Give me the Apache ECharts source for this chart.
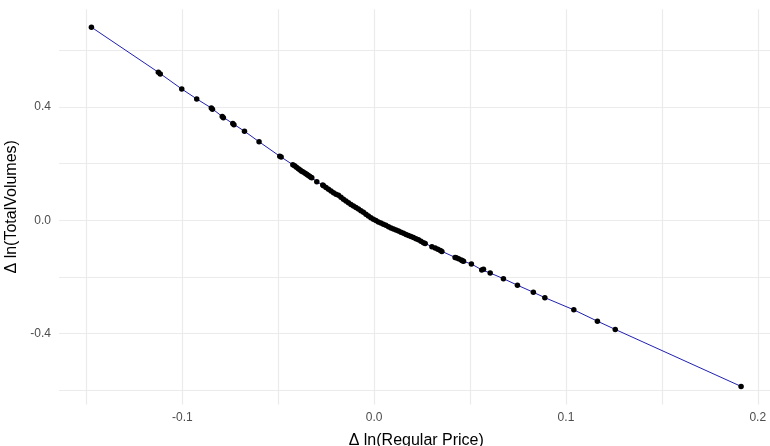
<!DOCTYPE html>
<html><head><meta charset="utf-8">
<script src="https://cdn.jsdelivr.net/npm/echarts@6/dist/echarts.min.js"></script>
<style>html,body{margin:0;padding:0;background:#fff}#c{width:770px;height:446px}</style>
</head><body><div id="c"></div>
<script>
// Δ ln(Regular Price)
const priceChange = [-0.1474,-0.1125,-0.1115,-0.1003,-0.0925,-0.0849,-0.0843,-0.0792,-0.0786,-0.0737,-0.0731,-0.0676,-0.0600,-0.0492,-0.0485,
  -0.0424,-0.0415,-0.0405,-0.0395,-0.0386,-0.0378,-0.0370,-0.0360,-0.0352,-0.0345,-0.0337,-0.0330,-0.0325,-0.0299,-0.0268,
  -0.0264,-0.0251,-0.0238,-0.0225,-0.0212,-0.0199,-0.0186,-0.0173,-0.0160,-0.0147,-0.0134,-0.0121,-0.0108,-0.0095,-0.0082,-0.0069,-0.0056,-0.0043,-0.0030,-0.0017,-0.0004,
  0.0009,0.0022,0.0035,0.0048,0.0061,0.0075,0.0088,0.0101,0.0114,0.0127,0.0140,0.0153,0.0166,0.0179,0.0192,0.0205,0.0218,0.0231,0.0244,0.0257,0.0266,
  0.0301,0.0318,0.0332,0.0345,0.0353,0.0422,0.0428,0.0440,0.0454,0.0460,0.0466,0.0507,0.0561,0.0570,0.0605,0.0674,0.0747,0.0830,0.0890,0.1041,0.1164,0.1257,0.1913];
// Δ ln(TotalVolumes)
const volumeChange = [0.681,0.522,0.516,0.463,0.428,0.396,0.392,0.366,0.362,0.341,0.337,0.314,0.277,0.226,0.223,
  0.196,0.192,0.187,0.182,0.177,0.173,0.170,0.166,0.162,0.159,0.155,0.152,0.150,0.136,0.124,
  0.122,0.116,0.109,0.103,0.097,0.092,0.088,0.081,0.074,0.068,0.062,0.056,0.050,0.045,0.040,0.034,0.028,0.021,0.015,0.009,0.0035,
  -0.001,-0.006,-0.010,-0.014,-0.018,-0.023,-0.027,-0.031,-0.034,-0.038,-0.042,-0.046,-0.050,-0.054,-0.057,-0.061,-0.065,-0.069,-0.074,-0.079,-0.082,
  -0.093,-0.098,-0.102,-0.107,-0.110,-0.131,-0.132,-0.136,-0.140,-0.143,-0.145,-0.154,-0.175,-0.173,-0.186,-0.206,-0.229,-0.254,-0.273,-0.316,-0.356,-0.385,-0.586];
const xTicks = [-0.1, 0.0, 0.1, 0.2];
const yTicks = [-0.4, 0.0, 0.4];
const xGrid = [-0.15,-0.1,-0.05,0,0.05,0.1,0.15,0.2];
const yGrid = [-0.6,-0.4,-0.2,0,0.2,0.4,0.6];

const pts = priceChange.map((x,i)=>[x, volumeChange[i]]).sort((a,b)=>a[0]-b[0]);
const fmt = v => v.toFixed(1);
const chart = echarts.init(document.getElementById('c'), null, {renderer:'canvas'});
const gridLines = [
  ...xGrid.map(v=>({xAxis:v})),
  ...yGrid.map(v=>({yAxis:v}))
];
chart.setOption({
  animation:false,
  backgroundColor:'#fff',
  grid:{left:59, right:-3.5, top:9.2, bottom:41.6, containLabel:false, outerBoundsMode:'none'},
  xAxis:{type:'value', min:-0.1643, max:0.2082,
    name:'Δ ln(Regular Price)', nameLocation:'middle', nameGap:28,
    nameTextStyle:{color:'#000', fontSize:16, fontFamily:'Liberation Sans'},
    axisLine:{show:false}, axisTick:{show:false, customValues:xTicks}, splitLine:{show:false},
    axisLabel:{customValues:xTicks, formatter:fmt, color:'#4d4d4d', fontSize:12, fontFamily:'Liberation Sans', margin:7}},
  yAxis:{type:'value', min:-0.6495, max:0.7445,
    name:'Δ ln(TotalVolumes)', nameLocation:'middle', nameGap:36, nameRotate:90,
    nameTextStyle:{color:'#000', fontSize:16, fontFamily:'Liberation Sans'},
    axisLine:{show:false}, axisTick:{show:false, customValues:yTicks}, splitLine:{show:false},
    axisLabel:{customValues:yTicks, formatter:fmt, color:'#4d4d4d', fontSize:12, fontFamily:'Liberation Sans', margin:8}},
  series:[
    {type:'line', data:pts, showSymbol:false, lineStyle:{color:'#2020b0', width:1}, z:2,
     markLine:{silent:true, symbol:'none', label:{show:false}, lineStyle:{color:'#ebebeb', width:1.2, type:'solid'}, data:gridLines, z:1}},
    {type:'scatter', data:pts, symbolSize:5.5, itemStyle:{color:'#000', opacity:1}, z:3}
  ]
});
</script></body></html>
